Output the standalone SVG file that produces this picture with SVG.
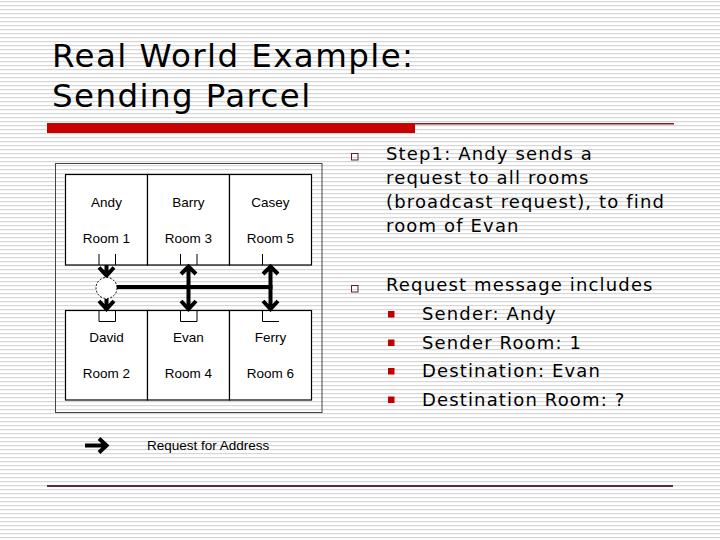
<svg xmlns="http://www.w3.org/2000/svg" width="720" height="540" viewBox="0 0 720 540">
<defs>
<pattern id="stripes" x="0" y="0" width="8" height="4" patternUnits="userSpaceOnUse">
<rect x="0" y="0" width="8" height="4" fill="#ffffff"/>
<rect x="0" y="1" width="8" height="1.2" fill="#d6d6d6"/>
</pattern>
</defs>
<style>
.title{font-family:"DejaVu Sans",Verdana,sans-serif;font-size:32.5px;letter-spacing:1.4px;fill:#000}
.body{font-family:"DejaVu Sans",Verdana,sans-serif;font-size:18px;letter-spacing:1.15px;fill:#000}
.lbl{font-family:"Liberation Sans",Arial,sans-serif;font-size:13.5px;fill:#000;text-anchor:middle}
.leg{font-family:"Liberation Sans",Arial,sans-serif;font-size:13.5px;fill:#000}
.box{fill:#ffffff;stroke:#000;stroke-width:1.2}
.thin{fill:none;stroke:#000;stroke-width:1}
.arr{fill:none;stroke:#000;stroke-width:4;stroke-linejoin:miter}
.hb{fill:none;stroke:#000;stroke-width:4}
.sq{fill:none;stroke:#5a1e28;stroke-width:1}
.rsq{fill:#c00000}
</style>
<rect x="0" y="0" width="720" height="540" fill="url(#stripes)"/>

<g id="title">
<text class="title" x="52" y="67">Real World Example:</text>
<text class="title" x="52" y="107">Sending Parcel</text>
</g>
<g id="rules">
<rect x="47" y="123" width="368" height="10" fill="#c80000"/>
<rect x="415" y="123" width="259" height="1.5" fill="#8b1a2a"/>
<rect x="47" y="485" width="626" height="2" fill="#5a2a35"/>
</g>

<g id="frame">
<rect x="55.5" y="163.5" width="266.5" height="249" fill="none" stroke="#444" stroke-width="1"/>
</g>

<g id="room1"><rect class="box" x="65.5" y="174.5" width="82" height="90.5"/><text class="lbl" x="106.5" y="207">Andy</text><text class="lbl" x="106.5" y="243">Room 1</text><path class="thin" d="M99 254V265M115.5 254V265"/></g>
<g id="room3"><rect class="box" x="147.5" y="174.5" width="82" height="90.5"/><text class="lbl" x="188.5" y="207">Barry</text><text class="lbl" x="188.5" y="243">Room 3</text><path class="thin" d="M180.5 254V265M197 254V265"/></g>
<g id="room5"><rect class="box" x="229.5" y="174.5" width="82" height="90.5"/><text class="lbl" x="270.5" y="207">Casey</text><text class="lbl" x="270.5" y="243">Room 5</text><path class="thin" d="M262.5 254V265"/></g>
<g id="room2"><rect class="box" x="65.5" y="310.5" width="82" height="89.5"/><text class="lbl" x="106.5" y="342">David</text><text class="lbl" x="106.5" y="378">Room 2</text><path class="thin" d="M99 310.5V321.5H115.5V310.5"/></g>
<g id="room4"><rect class="box" x="147.5" y="310.5" width="82" height="89.5"/><text class="lbl" x="188.5" y="342">Evan</text><text class="lbl" x="188.5" y="378">Room 4</text><path class="thin" d="M180.5 310.5V321.5H197V310.5"/></g>
<g id="room6"><rect class="box" x="229.5" y="310.5" width="82" height="89.5"/><text class="lbl" x="270.5" y="342">Ferry</text><text class="lbl" x="270.5" y="378">Room 6</text><path class="thin" d="M262.5 310.5V321.5H279"/></g>

<g id="connectors">
<line class="hb" x1="116" y1="287" x2="272.5" y2="287" stroke-width="5"/>
<path class="arr" d="M106.5 265V276M99 267.5L106.5 275.5L114 267.5"/>
<path class="arr" d="M106.5 299V309M99 301L106.5 309L114 301"/>
<path class="arr" d="M188.5 266V309M181 274L188.5 266.5L196 274M181 301L188.5 309L196 301"/>
<path class="arr" d="M270.5 266V309M263 274L270.5 266.5L278 274M263 301L270.5 309L278 301"/>
</g>
<g id="hub">
<circle cx="106.5" cy="288" r="10.5" fill="#ffffff" stroke="#000" stroke-width="1" stroke-dasharray="2 1.5"/>
</g>

<g id="legend">
<path class="arr" d="M85 445.5H106M99 438.5L106.5 445.5L99 452.5" stroke-width="3.5"/>
<text class="leg" x="147" y="450">Request for Address</text>
</g>

<g id="bullets">
<rect class="sq" x="351.5" y="153.5" width="6.5" height="6.5"/>
<text class="body" x="386" y="160">Step1: Andy sends a</text>
<text class="body" x="386" y="184">request to all rooms</text>
<text class="body" x="386" y="208">(broadcast request), to find</text>
<text class="body" x="386" y="232">room of Evan</text>
<rect class="sq" x="351.5" y="285.5" width="6.5" height="6.5"/>
<text class="body" x="386" y="291">Request message includes</text>
<rect class="rsq" x="388" y="311" width="6.5" height="6.5"/>
<text class="body" x="422" y="320">Sender: Andy</text>
<rect class="rsq" x="388" y="339.5" width="6.5" height="6.5"/>
<text class="body" x="422" y="348.5">Sender Room: 1</text>
<rect class="rsq" x="388" y="368" width="6.5" height="6.5"/>
<text class="body" x="422" y="377">Destination: Evan</text>
<rect class="rsq" x="388" y="396.5" width="6.5" height="6.5"/>
<text class="body" x="422" y="405.5">Destination Room: ?</text>
</g>
</svg>
